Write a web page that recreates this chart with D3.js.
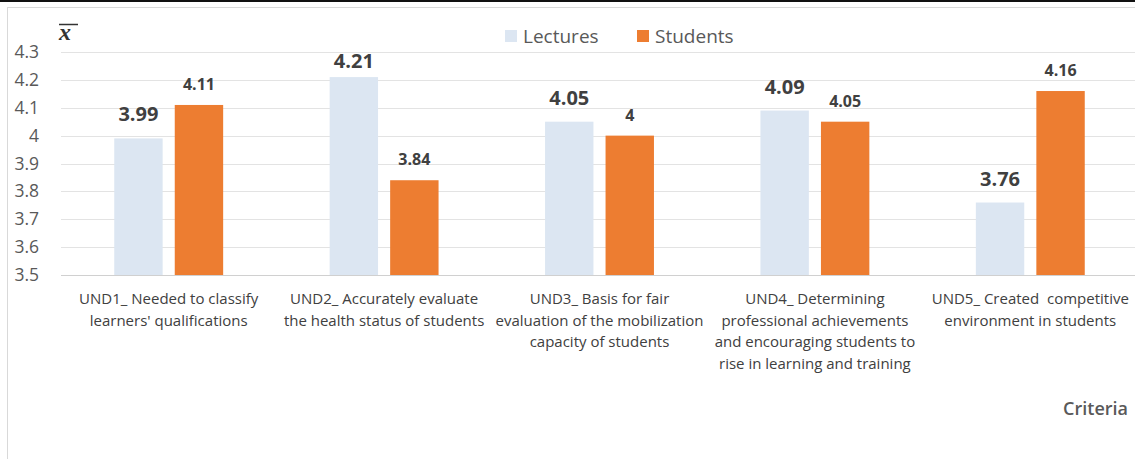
<!DOCTYPE html>
<html><head><meta charset="utf-8">
<script src="https://cdn.jsdelivr.net/npm/d3@7"></script>
<style>
html,body{margin:0;padding:0;background:#fff;}
svg{display:block;}
text{font-family:"Open Sans",sans-serif;}
</style></head>
<body>
<svg id="chart" width="1135" height="459"></svg>
<script>
const categories = [
  ["UND1_ Needed to classify","learners' qualifications"],
  ["UND2_ Accurately evaluate","the health status of students"],
  ["UND3_ Basis for fair","evaluation of the mobilization","capacity of students"],
  ["UND4_ Determining","professional achievements","and encouraging students to","rise in learning and training"],
  ["UND5_ Created  competitive","environment in students"]
];
const seriesNames = ["Lectures","Students"];
const lectures = [3.99, 4.21, 4.05, 4.09, 3.76];
const students = [4.11, 3.84, 4.00, 4.05, 4.16];
const yTicks = [3.5, 3.6, 3.7, 3.8, 3.9, 4.0, 4.1, 4.2, 4.3];
const colors = ["#DCE6F2", "#ED7D31"];

const svg = d3.select("#chart");
const W = 1135, H = 459;

// frame
svg.append("rect").attr("x",0).attr("y",0).attr("width",W).attr("height",2).attr("fill","#111");
svg.append("line").attr("x1",7).attr("x2",W).attr("y1",7.5).attr("y2",7.5).attr("stroke","#d9d9d9");
svg.append("line").attr("x1",7.5).attr("x2",7.5).attr("y1",7).attr("y2",H).attr("stroke","#d9d9d9");

const left = 61, right = 1138;
const y = d3.scaleLinear().domain([3.5, 4.3]).range([275, 52]);
const x0 = d3.scaleBand().domain(d3.range(categories.length)).range([left, right]).paddingInner(0).paddingOuter(0);
const bw = x0.bandwidth();
const x1 = d3.scaleBand().domain(seriesNames).range([0, bw]).paddingInner(0.2).paddingOuter(0.88);

// gridlines
svg.append("g").selectAll("line").data(yTicks).join("line")
  .attr("x1", left).attr("x2", right)
  .attr("y1", d => Math.round(y(d)) + 0.5).attr("y2", d => Math.round(y(d)) + 0.5)
  .attr("stroke", d => d === 3.5 ? "#d0d0d0" : "#e3e3e3").attr("stroke-width", 1);

// y axis labels
const yAxis = d3.axisLeft(y).tickValues(yTicks).tickSize(0).tickPadding(0)
  .tickFormat(d => d3.format("")(+d.toFixed(1)));
const ya = svg.append("g").attr("transform","translate(39,0)").call(yAxis);
ya.select(".domain").remove();
ya.selectAll("text").attr("fill","#595959").style("font-size","17.5px").style("font-family","'Open Sans',sans-serif");

// x-bar symbol
svg.append("text").attr("x",59).attr("y",40).text("x")
  .style("font-family","'Liberation Serif',serif").style("font-style","italic").style("font-weight","700")
  .style("font-size","24px").attr("fill","#333");
svg.append("line").attr("x1",59).attr("x2",78).attr("y1",24.5).attr("y2",24.5).attr("stroke","#333").attr("stroke-width",1.5);

// bars
const data = categories.map((c,i) => ({i, vals:[lectures[i], students[i]]}));
const groups = svg.append("g").selectAll("g").data(data).join("g")
  .attr("transform", d => `translate(${x0(d.i)},0)`);
groups.selectAll("rect").data(d => d.vals.map((v,k)=>({v,k}))).join("rect")
  .attr("x", d => x1(seriesNames[d.k]))
  .attr("width", x1.bandwidth())
  .attr("y", d => y(d.v))
  .attr("height", d => y(3.5) - y(d.v))
  .attr("fill", d => colors[d.k]);

// value labels
groups.selectAll("text.val").data(d => d.vals.map((v,k)=>({v,k}))).join("text")
  .attr("class","val")
  .attr("x", d => x1(seriesNames[d.k]) + x1.bandwidth()/2)
  .attr("y", d => d.k === 0 ? Math.max(68, y(d.v) - 17) : y(d.v) - 15)
  .attr("text-anchor","middle")
  .attr("fill","#404040")
  .style("font-weight","700")
  .style("font-size", d => d.k === 0 ? "20px" : "16px")
  .text(d => d3.format("")(+d.v.toFixed(2)));

// category labels
const cl = svg.append("g").selectAll("text").data(categories).join("text")
  .attr("x", (d,i) => x0(i) + bw/2)
  .attr("y", 304)
  .attr("text-anchor","middle")
  .attr("fill","#404040")
  .style("font-size","15px");
cl.selectAll("tspan").data(d => d).join("tspan")
  .attr("x", function(){ return this.parentNode.getAttribute("x"); })
  .attr("dy", (d,j) => j === 0 ? 0 : 21.5)
  .style("white-space","pre")
  .text(d => d);

// legend
const leg = svg.append("g");
const legX = [505, 637];
seriesNames.forEach((s,k) => {
  leg.append("rect").attr("x", legX[k]).attr("y", 30).attr("width", 12).attr("height", 12).attr("fill", colors[k]);
  leg.append("text").attr("x", legX[k] + 18).attr("y", 43).attr("fill","#595959")
    .style("font-size","19px").text(s);
});

// axis title
svg.append("text").attr("x",1128).attr("y",415).attr("text-anchor","end")
  .attr("fill","#595959").style("font-size","18px").style("font-weight","600").text("Criteria");
</script>
</body></html>
